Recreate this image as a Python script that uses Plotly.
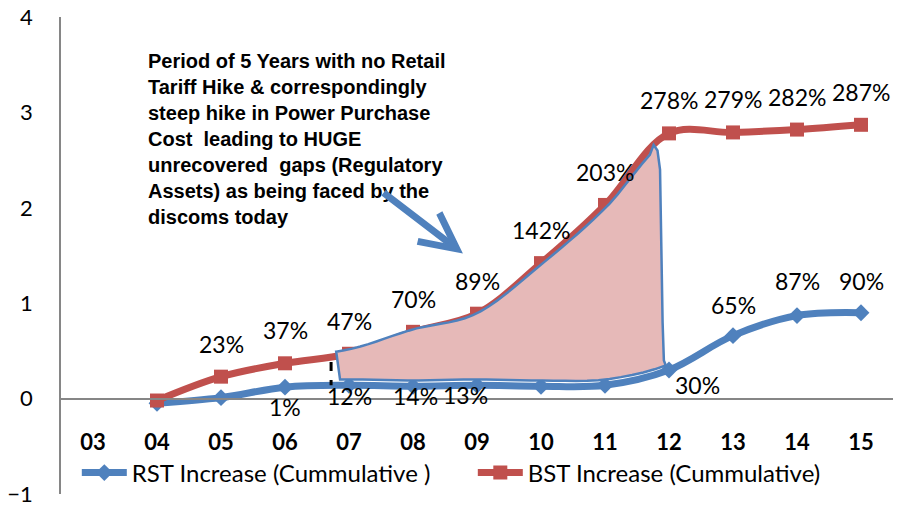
import plotly.graph_objects as go
import numpy as np

categories = ['03', '04', '05', '06', '07', '08', '09', '10', '11', '12', '13', '14', '15']
rst_values = [None, -0.05, 0.01, 0.12, 0.14, 0.13, 0.14, 0.13, 0.14, 0.30, 0.66, 0.87, 0.90]
bst_values = [None, -0.02, 0.23, 0.37, 0.47, 0.70, 0.89, 1.42, 2.03, 2.78, 2.79, 2.82, 2.87]
rst_labels = [None, None, None, '1%', '12%', '14%', '13%', None, None, '30%', '65%', '87%', '90%']
bst_labels = [None, None, '23%', '37%', '47%', '70%', '89%', '142%', '203%', '278%', '279%', '282%', '287%']
rst_name = 'RST Increase (Cummulative )'
bst_name = 'BST Increase (Cummulative)'
note_text = ('Period of 5 Years with no Retail<br>Tariff Hike &amp; correspondingly<br>'
             'steep hike in Power Purchase<br>Cost \u00a0leading to HUGE<br>'
             'unrecovered \u00a0gaps (Regulatory<br>Assets) as being faced by the<br>discoms today')

# label offsets in pixels (style only)
rst_label_shift = [None, None, None, (0, -20), (0, -11), (2, -10), (-12, -10), None, None, (28, -15), (0, 31), (0, 35), (0, 32)]

BLUE = '#4F81BD'
RED = '#C0504D'
AXIS = '#868686'
FONT = 'Lato'

x_idx = list(range(len(categories)))


def catmull(xs, ys, xq):
    xs = np.asarray(xs, float)
    ys = np.asarray(ys, float)
    out = []
    for q in xq:
        k = int(np.clip(np.searchsorted(xs, q) - 1, 0, len(xs) - 2))
        p0 = ys[max(k - 1, 0)]
        p1 = ys[k]
        p2 = ys[k + 1]
        p3 = ys[min(k + 2, len(ys) - 1)]
        t = (q - xs[k]) / (xs[k + 1] - xs[k])
        out.append(0.5 * ((2 * p1) + (-p0 + p2) * t + (2 * p0 - 5 * p1 + 4 * p2 - p3) * t * t
                          + (-p0 + 3 * p1 - 3 * p2 + p3) * t ** 3))
    return np.array(out)


fig = go.Figure()
fig.add_trace(go.Scatter(
    x=x_idx, y=rst_values, name=rst_name, mode='lines+markers',
    line=dict(color=BLUE, width=7, shape='spline', smoothing=1),
    marker=dict(symbol='diamond', size=13, color=BLUE)))
fig.add_trace(go.Scatter(
    x=x_idx, y=bst_values, name=bst_name, mode='lines+markers',
    line=dict(color=RED, width=7, shape='spline', smoothing=1),
    marker=dict(symbol='square', size=14, color=RED)))

# shaded gap region between the two series (07 -> 12)
bx = [i for i, v in enumerate(bst_values) if v is not None]
bv = [bst_values[i] for i in bx]
rv = [rst_values[i] for i in bx]
top_x = np.linspace(3.80, 8.70, 40)
top_y = catmull(bx, bv, top_x) + np.linspace(0.05, -0.05, 40)
bot_x = np.linspace(8.95, 3.86, 30)
bot_y = catmull(bx, rv, bot_x) + 0.06
pts = list(zip(top_x, top_y))
pts += [(8.76, 2.66), (8.82, 2.6), (8.86, 2.4), (8.88, 1.6), (8.90, 0.8), (8.92, 0.40)]
pts += list(zip(bot_x, bot_y))
path = 'M ' + ' L '.join(f'{px:.3f},{py:.3f}' for px, py in pts) + ' Z'
fig.add_shape(type='path', path=path, xref='x', yref='y', layer='above',
              fillcolor='#E6B9B8', line=dict(color=BLUE, width=2.5))
fig.add_shape(type='line', x0=3.72, x1=3.72, y0=catmull(bx, bv, [3.72])[0] - 0.05,
              y1=catmull(bx, rv, [3.72])[0] + 0.0, xref='x', yref='y', layer='above',
              line=dict(color='black', width=3, dash='dash'))

annotations = []
for i, lab in enumerate(bst_labels):
    if lab:
        annotations.append(dict(x=i, y=bst_values[i], text=lab, showarrow=False, yshift=33,
                                font=dict(family=FONT, size=23, color='black')))
for i, lab in enumerate(rst_labels):
    if lab:
        dx, dy = rst_label_shift[i]
        annotations.append(dict(x=i, y=rst_values[i], text=lab, showarrow=False, xshift=dx, yshift=dy,
                                font=dict(family=FONT, size=23, color='black')))
annotations.append(dict(x=0.83, y=3.675, xref='x', yref='y', text=note_text, showarrow=False,
                        xanchor='left', yanchor='top', align='left',
                        font=dict(family='Liberation Sans', size=20, color='black', weight='bold')))
annotations.append(dict(x=5.78, y=1.52, ax=4.516, ay=2.17, xref='x', yref='y', axref='x', ayref='y',
                        text='', showarrow=True, arrowhead=5, arrowwidth=7, arrowsize=1.0,
                        arrowcolor=BLUE))

fig.update_layout(
    width=897, height=508,
    margin=dict(l=61, r=4, t=17, b=14, autoexpand=False),
    plot_bgcolor='white', paper_bgcolor='white',
    showlegend=True,
    legend=dict(orientation='h', x=0.019, xanchor='left', y=0.044, yanchor='middle',
                font=dict(family=FONT, size=24, color='black'), entrywidth=336,
                itemwidth=45, bgcolor='rgba(0,0,0,0)'),
    xaxis=dict(range=[-0.5, 12.5], tickvals=x_idx, ticktext=categories, showgrid=False,
               zeroline=False, showline=True, linecolor=AXIS, linewidth=1.5,
               anchor='free', position=0.2, ticks='', ticklabelstandoff=24, automargin=False,
               ticklabeloverflow='allow',
               tickfont=dict(family=FONT, size=22, color='black', weight='bold')),
    yaxis=dict(range=[-1, 4], dtick=1, showgrid=False, zeroline=False, showline=True,
               linecolor=AXIS, linewidth=1.5, ticks='', ticklabelstandoff=22, automargin=False,
               ticklabeloverflow='allow',
               tickfont=dict(family=FONT, size=22, color='black')),
    annotations=annotations,
)

# remove the default 8px page margin so the 897x508 figure fills the window exactly
fig.write_html('out.html', config={'displayModeBar': False},
               post_script="document.body.style.margin='0';")
